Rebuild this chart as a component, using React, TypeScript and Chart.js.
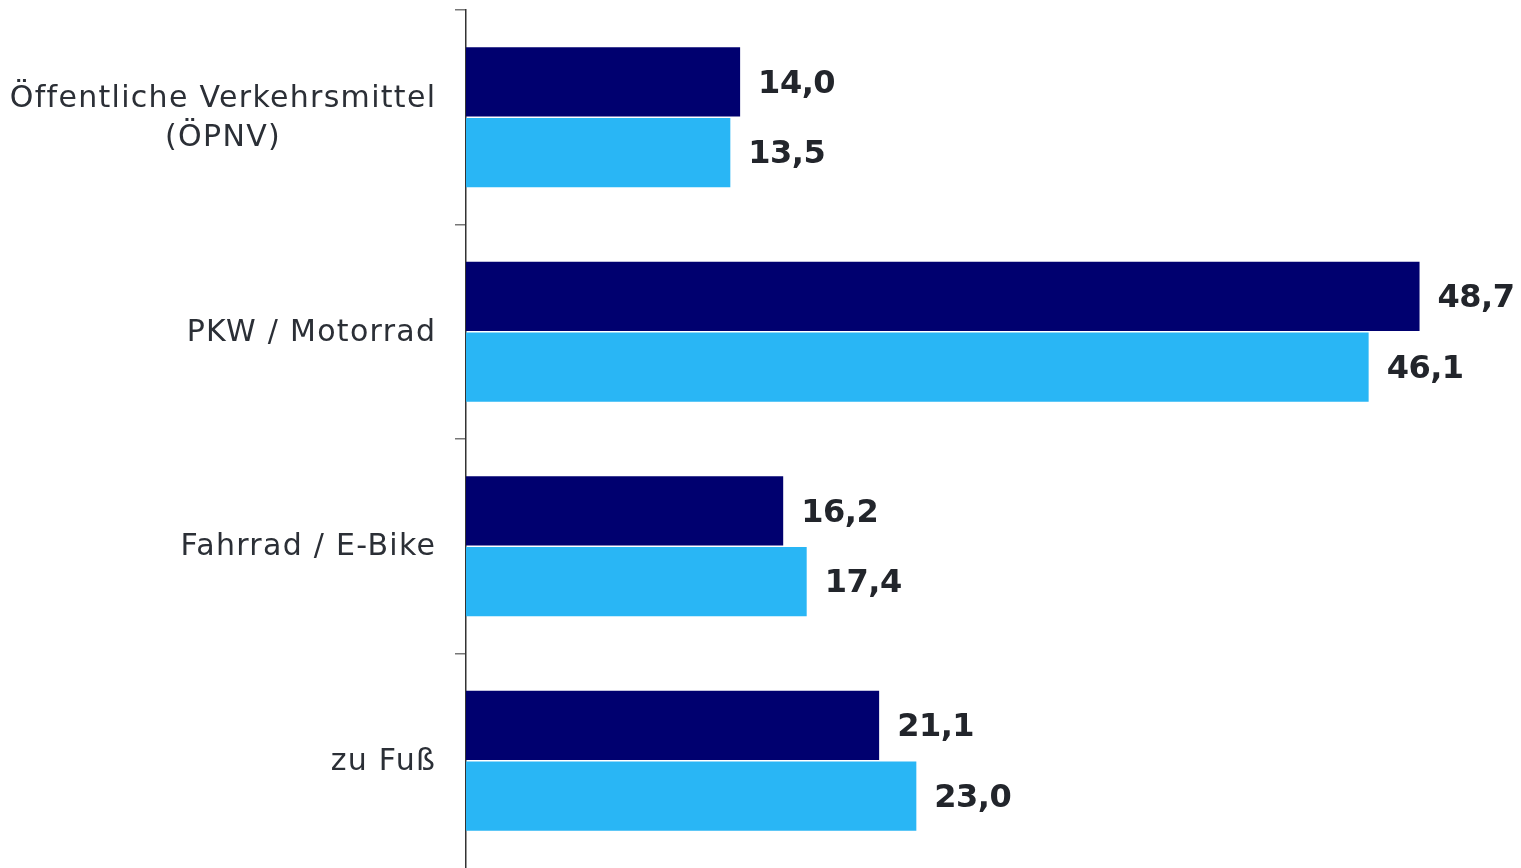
import React, { useEffect, useRef } from "react";
import { Chart, registerables } from "chart.js";

Chart.register(...registerables);

const categories: string[][] = [
  ["Öffentliche Verkehrsmittel", "(ÖPNV)"],
  ["PKW / Motorrad"],
  ["Fahrrad / E-Bike"],
  ["zu Fuß"],
];
const seriesA: number[] = [14.0, 48.7, 16.2, 21.1];
const seriesB: number[] = [13.5, 46.1, 17.4, 23.0];
const seriesAName = "Serie 1";
const seriesBName = "Serie 2";
const colorA = "#00006F";
const colorB = "#29B6F5";

const FONT = "'DejaVu Sans', Verdana, sans-serif";

const labelsPlugin = {
  id: "customLabels",
  afterDatasetsDraw(chart: any) {
    const ctx = chart.ctx;
    ctx.save();
    // data labels
    ctx.font = `bold 32px ${FONT}`;
    (ctx as any).letterSpacing = "-0.5px";
    ctx.fillStyle = "#22252B";
    ctx.textAlign = "left";
    ctx.textBaseline = "middle";
    chart.data.datasets.forEach((ds: any, di: number) => {
      const meta = chart.getDatasetMeta(di);
      meta.data.forEach((bar: any, i: number) => {
        const v = ds.data[i] as number;
        const txt = v.toFixed(1).replace(".", ",");
        ctx.fillText(txt, bar.x + 18, bar.y + 2.5);
      });
    });
    // category labels
    const yScale = chart.scales.y;
    const rightX = 435;
    const ls = 1.3;
    ctx.font = `30px ${FONT}`;
    (ctx as any).letterSpacing = `${ls}px`;
    ctx.fillStyle = "#2B2F36";
    ctx.textAlign = "left";
    const lh = 39;
    categories.forEach((lines, i) => {
      const cy = yScale.getPixelForValue(i) + 1;
      const widths = lines.map((l) => ctx.measureText(l).width - ls);
      const widest = Math.max(...widths);
      const cx = rightX - widest / 2;
      const startY = cy - ((lines.length - 1) * lh) / 2;
      lines.forEach((l, k) => {
        ctx.fillText(l, cx - widths[k] / 2, startY + k * lh);
      });
    });
    ctx.restore();
  },
};

export default function App() {
  const ref = useRef<HTMLCanvasElement | null>(null);
  useEffect(() => {
    document.body.style.margin = "0";
    const chart = new Chart(ref.current as HTMLCanvasElement, {
      type: "bar",
      data: {
        labels: categories.map((c) => c.join(" ")),
        datasets: [
          {
            label: seriesAName,
            data: seriesA,
            backgroundColor: colorA,
            categoryPercentage: 0.66,
            barPercentage: 0.98,
          },
          {
            label: seriesBName,
            data: seriesB,
            backgroundColor: colorB,
            categoryPercentage: 0.66,
            barPercentage: 0.98,
          },
        ],
      },
      options: {
        indexAxis: "y",
        animation: false,
        responsive: true,
        maintainAspectRatio: false,
        layout: { padding: { top: 10, right: 76, bottom: 0, left: 0 } },
        plugins: {
          legend: { display: false },
          tooltip: { enabled: false },
        },
        scales: {
          x: {
            display: false,
            min: 0,
            max: 50,
          },
          y: {
            position: "left",
            grid: {
              offset: true,
              drawOnChartArea: false,
              drawTicks: true,
              tickLength: 11,
              color: (c: any) => (c.type === "tick" ? "#777777" : "rgba(0,0,0,0)"),
              lineWidth: 1.5,
            },
            border: { display: true, color: "#333333", width: 1.5 },
            ticks: { display: false },
            afterFit: (scale: any) => {
              scale.width = 466;
            },
          },
        },
      },
      plugins: [labelsPlugin],
    });
    return () => chart.destroy();
  }, []);
  return (
    <div style={{ position: "fixed", left: 0, top: 0, width: "1521px", height: "868px" }}>
      <canvas ref={ref} />
    </div>
  );
}
